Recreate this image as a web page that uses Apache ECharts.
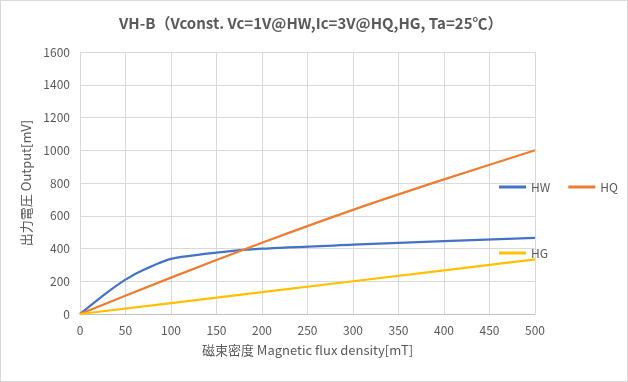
<!DOCTYPE html>
<html><head><meta charset="utf-8">
<script src="https://cdn.jsdelivr.net/npm/echarts@6/dist/echarts.min.js"></script>
<style>html,body{margin:0;padding:0;background:#fff}#c{width:626px;height:380px;border:1px solid #d9d9d9}</style>
</head><body><div id="c"></div>
<script>
const xB_HW = [0,30,50,70,100,150,200,300,400,500];
const hwVals = [0,132,210,270,337,375,399,423,445,465];
const xB_HQ = [0,100,200,300,400,500];
const hqVals = [0,222,435,636,822,1000];
const xB_HG = [0,100,200,300,400,500];
const hgVals = [0,67,133,200,267,334];
const xTicks = [0,50,100,150,200,250,300,350,400,450,500];
const yTicks = [0,200,400,600,800,1000,1200,1400,1600];
const txt = '#595959';
const font = '"Noto Sans CJK JP", sans-serif';
const pair = (xs, ys) => xs.map((x, i) => [x, ys[i]]);
const chart = echarts.init(document.getElementById('c'));
chart.setOption({
  animation: false,
  title: {text: 'VH-B（Vconst. Vc=1V@HW,Ic=3V@HQ,HG, Ta=25℃）', left: 113, top: 10,
    textStyle: {fontFamily: font, fontSize: 15, fontWeight: 'bold', color: txt}},
  grid: {left: 79, right: 92, top: 51, bottom: 67},
  legend: [
    {data: ['HW','HQ'], orient: 'horizontal', left: 493, top: 175, itemWidth: 27, itemHeight: 3, itemGap: 18,
     textStyle: {fontFamily: font, fontSize: 12, color: txt}, icon: 'rect'},
    {data: ['HG'], orient: 'horizontal', left: 493, top: 241, itemWidth: 27, itemHeight: 3,
     textStyle: {fontFamily: font, fontSize: 12, color: txt}, icon: 'rect'}
  ],
  xAxis: {type: 'value', min: 0, max: 500, interval: 50,
    name: '磁束密度 Magnetic flux density[mT]', nameLocation: 'middle', nameGap: 30,
    nameTextStyle: {fontFamily: font, fontSize: 13, color: txt},
    axisLine: {lineStyle: {color: '#bfbfbf'}}, axisTick: {show: false},
    axisLabel: {fontFamily: font, fontSize: 12, color: txt, margin: 10, formatter: v => String(v)},
    splitLine: {show: true, lineStyle: {color: '#d9d9d9'}}},
  yAxis: {type: 'value', min: 0, max: 1600, interval: 200,
    name: '出力電圧 Output[mV]', nameLocation: 'middle', nameGap: 38,
    nameTextStyle: {fontFamily: font, fontSize: 13, color: txt},
    axisLine: {show: false}, axisTick: {show: false},
    axisLabel: {fontFamily: font, fontSize: 12, color: txt, margin: 10, formatter: v => String(v)},
    splitLine: {show: true, lineStyle: {color: '#d9d9d9'}}},
  series: [
    {name: 'HW', type: 'line', data: pair(xB_HW, hwVals), smooth: 0.25, showSymbol: false, color: '#4472C4', lineStyle: {width: 2.25}},
    {name: 'HQ', type: 'line', data: pair(xB_HQ, hqVals), smooth: 0.3, showSymbol: false, color: '#ED7D31', lineStyle: {width: 2.25}},
    {name: 'HG', type: 'line', data: pair(xB_HG, hgVals), showSymbol: false, color: '#FFC000', lineStyle: {width: 2.25}}
  ]
});
</script></body></html>
